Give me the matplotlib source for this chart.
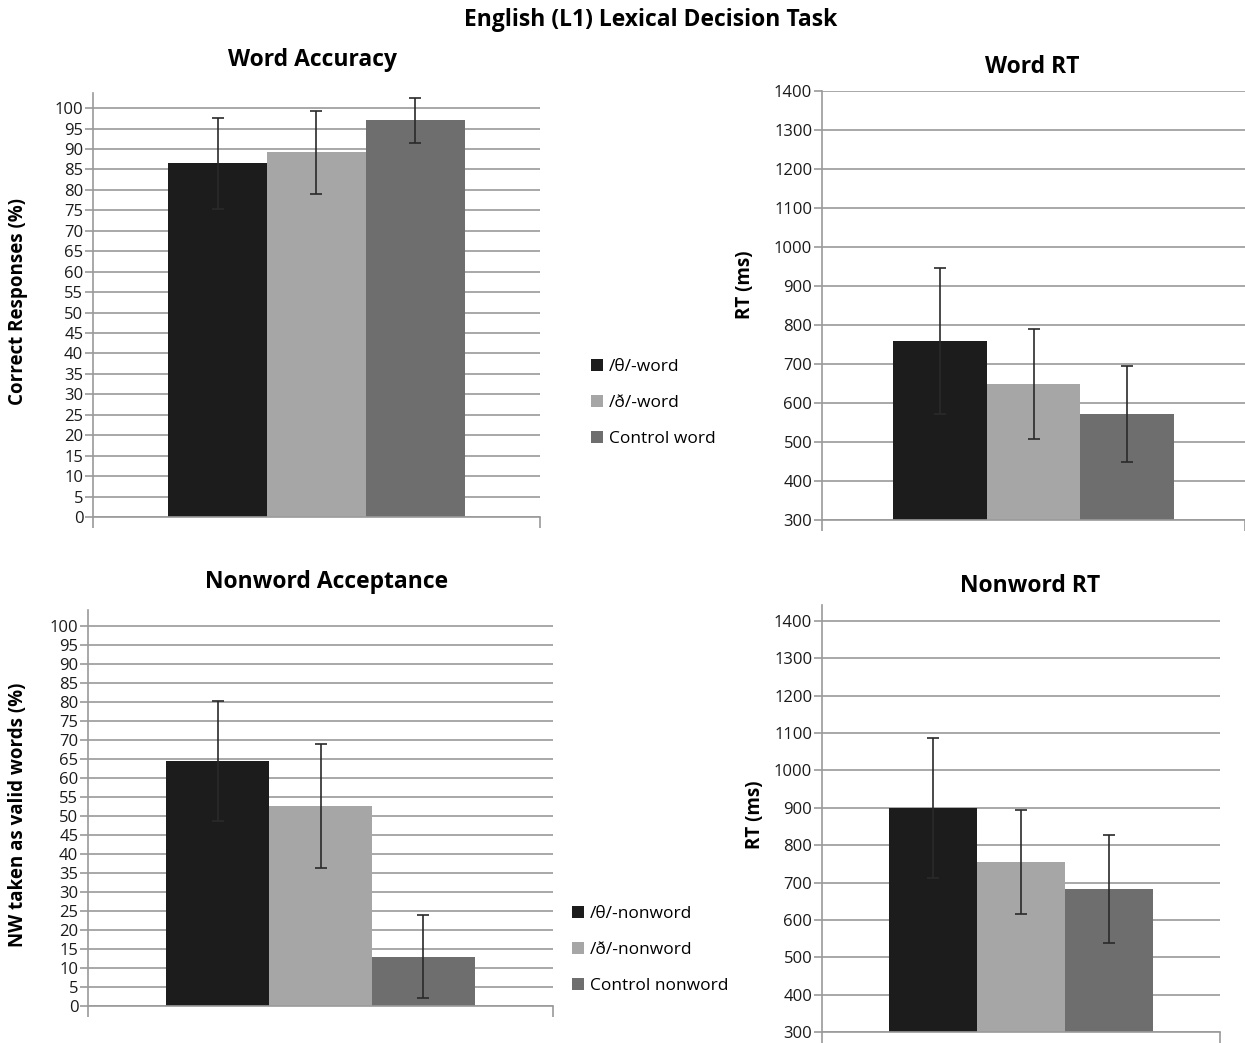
import numpy as np
import matplotlib.pyplot as plt
from matplotlib.patches import Patch

plt.rcParams['font.family'] = ['Open Sans', 'DejaVu Sans']

# means and error bars per condition
word_acc = [86.5, 89.2, 97.0]
word_acc_err = [11.2, 10.2, 5.5]
word_rt = [760, 648, 572]
word_rt_err = [187, 141, 123]
nw_acc = [64.5, 52.7, 13.0]
nw_acc_err = [15.7, 16.3, 11.0]
nw_rt = [900, 755, 683]
nw_rt_err = [188, 138, 144]

word_labels = ['/θ/-word', '/ð/-word', 'Control word']
nonword_labels = ['/θ/-nonword', '/ð/-nonword', 'Control nonword']
colors = ['#1c1c1c', '#a6a6a6', '#6e6e6e']

W, H = 1245, 1043
fig = plt.figure(figsize=(W / 100, H / 100), dpi=100)


def px_axes(x0, x1, ytop, ybot):
    return fig.add_axes([x0 / W, 1 - ybot / H, (x1 - x0) / W, (ybot - ytop) / H])


def panel(ax, vals, errs, ylo, yhi, ystep, top):
    xs = np.arange(len(vals)) - 1
    ax.bar(xs, vals, width=1.0, color=colors, zorder=2)
    ax.errorbar(xs, vals, yerr=errs, fmt='none', ecolor='#2a2a2a',
                elinewidth=1.2, capsize=4, capthick=1.2, zorder=3)
    ax.set_xlim(-2.26, 2.26)
    ax.set_ylim(ylo, top)
    ax.set_yticks(np.arange(ylo, yhi + 1, ystep))
    ax.yaxis.grid(True, color='#9a9a9a', linewidth=1.2, zorder=1)
    ax.set_axisbelow(True)
    ax.set_xticks([-2.26, 2.26])
    ax.set_xticklabels([])
    ax.tick_params(axis='x', length=8, color='#9a9a9a', width=1.2)
    ax.tick_params(axis='y', length=6, color='#9a9a9a', width=1.2,
                   labelsize=12, pad=1, labelcolor='#1a1a1a')
    for s in ['top', 'right']:
        ax.spines[s].set_visible(False)
    for s in ['left', 'bottom']:
        ax.spines[s].set_color('#9a9a9a')
        ax.spines[s].set_linewidth(1.2)


ax1 = px_axes(93, 540, 93, 517)
panel(ax1, word_acc, word_acc_err, 0, 100, 5, 103.7)
ax2 = px_axes(822, 1245, 91, 520)
panel(ax2, word_rt, word_rt_err, 300, 1400, 100, 1400)
ax3 = px_axes(88, 553, 610, 1006)
panel(ax3, nw_acc, nw_acc_err, 0, 100, 5, 104.2)
ax4 = px_axes(822, 1220, 605, 1032)
panel(ax4, nw_rt, nw_rt_err, 300, 1400, 100, 1443)

fig.text(651 / W, 1 - 20 / H, 'English (L1) Lexical Decision Task',
         ha='center', va='center', fontsize=16.5, fontweight='bold')
for x, y, t in [(313, 60, 'Word Accuracy'), (1032, 67, 'Word RT'),
                (327, 582, 'Nonword Acceptance'), (1030, 586, 'Nonword RT')]:
    fig.text(x / W, 1 - y / H, t, ha='center', va='center',
             fontsize=16.5, fontweight='bold')

for x, y, t in [(18, 302, 'Correct Responses (%)'), (745, 285, 'RT (ms)'),
                (18, 815, 'NW taken as valid words (%)'), (755, 815, 'RT (ms)')]:
    fig.text(x / W, 1 - y / H, t, ha='center', va='center', rotation=90,
             fontsize=13.5, fontweight='bold')

for labels, (x, y) in [(word_labels, (582, 350)), (nonword_labels, (563, 897))]:
    handles = [Patch(facecolor=c, label=l) for c, l in zip(colors, labels)]
    fig.legend(handles=handles, loc='upper left',
               bbox_to_anchor=(x / W, 1 - y / H), frameon=False,
               fontsize=12.5, handlelength=0.7, handleheight=0.7,
               handletextpad=0.35, labelspacing=1.15, borderpad=0)

fig.savefig('out.png', dpi=100)
